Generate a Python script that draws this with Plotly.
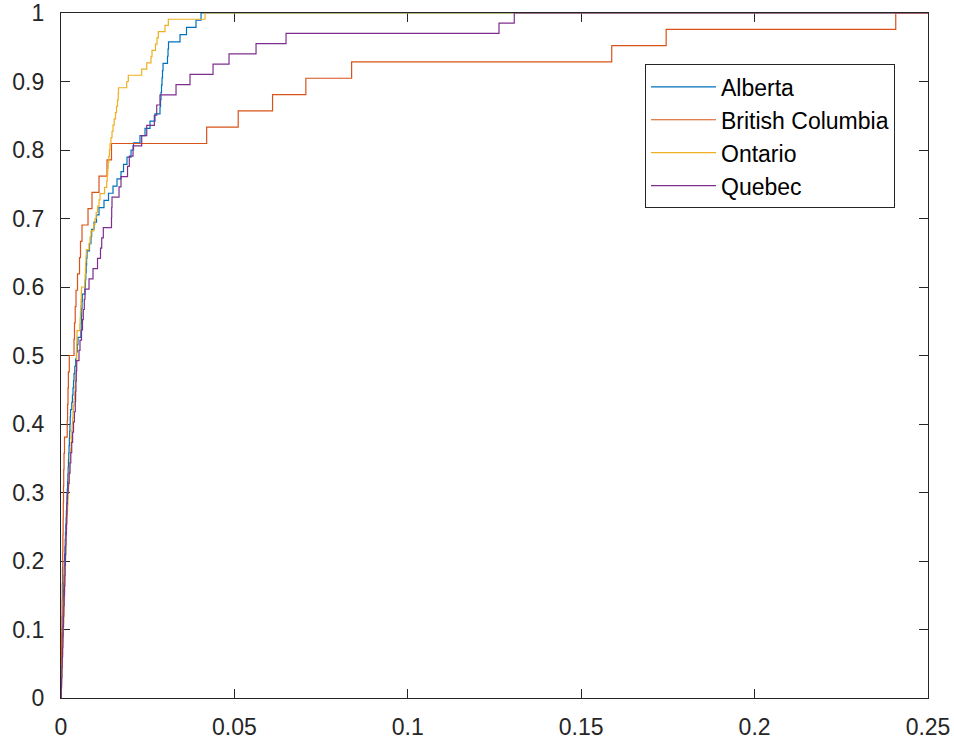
import numpy as np
import plotly.graph_objects as go

# Sample values per province (sorted observations)
alberta = [0.00005, 0.00010, 0.00015, 0.00020, 0.00025, 0.00030, 0.00035, 0.00040, 0.00045, 0.00050,
           0.00055, 0.00060, 0.00065, 0.00070, 0.00075, 0.00080, 0.00085, 0.00090, 0.00095, 0.00104,
           0.00112, 0.00121, 0.00129, 0.00138, 0.00147, 0.00155, 0.00164, 0.00172, 0.00181, 0.00189,
           0.00198, 0.00206, 0.00215, 0.00224, 0.00232, 0.00241, 0.00249, 0.00258, 0.00266, 0.00275,
           0.00311, 0.00329, 0.00346, 0.00361, 0.00375, 0.00398, 0.00421, 0.00447, 0.00470, 0.00490,
           0.00574, 0.00583, 0.00591, 0.00597, 0.00606, 0.00614, 0.00692, 0.00704, 0.00715, 0.00727,
           0.00738, 0.00750, 0.00822, 0.00865, 0.00885, 0.00952, 0.01024, 0.01096, 0.01240, 0.01370,
           0.01500, 0.01615, 0.01730, 0.01803, 0.01903, 0.02019, 0.02091, 0.02278, 0.02423, 0.02567,
           0.02711, 0.02855, 0.02870, 0.02884, 0.02898, 0.02913, 0.02927, 0.02942, 0.03071, 0.03086,
           0.03100, 0.03432, 0.03619, 0.03893, 0.04038]

british_columbia = [0.00003, 0.00009, 0.00014, 0.00020, 0.00026, 0.00032, 0.00037, 0.00043, 0.00049, 0.00055,
                    0.00061, 0.00066, 0.00072, 0.00078, 0.00087, 0.00101, 0.00179, 0.00190, 0.00202, 0.00213,
                    0.00239, 0.00375, 0.00389, 0.00410, 0.00433, 0.00476, 0.00534, 0.00562, 0.00606, 0.00779,
                    0.00894, 0.01096, 0.01327, 0.01456, 0.0420, 0.0511, 0.0610, 0.0706, 0.0838, 0.1588,
                    0.1745, 0.2407]

ontario = [0.00006, 0.00012, 0.00018, 0.00024, 0.00030, 0.00036, 0.00042, 0.00048, 0.00054, 0.00060,
           0.00066, 0.00072, 0.00078, 0.00083, 0.00089, 0.00094, 0.00100, 0.00106, 0.00111, 0.00117,
           0.00122, 0.00128, 0.00134, 0.00139, 0.00145, 0.00150, 0.00156, 0.00163, 0.00172, 0.00182,
           0.00191, 0.00200, 0.00209, 0.00218, 0.00228, 0.00236, 0.00246, 0.00255, 0.00265, 0.00277,
           0.00288, 0.00300, 0.00311, 0.00323, 0.00335, 0.00346, 0.00358, 0.00375, 0.00389, 0.00404,
           0.00415, 0.00427, 0.00441, 0.00444, 0.00447, 0.00450, 0.00453, 0.00457, 0.00461, 0.00542,
           0.00551, 0.00560, 0.00568, 0.00577, 0.00585, 0.00591, 0.00686, 0.00695, 0.00704, 0.00712,
           0.00721, 0.00730, 0.00808, 0.00836, 0.00865, 0.00946, 0.00981, 0.01015, 0.01053, 0.01096,
           0.01125, 0.01255, 0.01318, 0.01332, 0.01347, 0.01361, 0.01379, 0.01396, 0.01413, 0.01442,
           0.01471, 0.01500, 0.01534, 0.01572, 0.01601, 0.01629, 0.01650, 0.01658, 0.01895, 0.01941,
           0.02327, 0.02472, 0.02596, 0.02624, 0.02725, 0.02769, 0.02806, 0.02999, 0.03095, 0.04153]

quebec = [0.00009, 0.00017, 0.00026, 0.00037, 0.00046, 0.00055, 0.00063, 0.00072, 0.00081, 0.00092,
          0.00101, 0.00110, 0.00118, 0.00127, 0.00136, 0.00144, 0.00156, 0.00164, 0.00173, 0.00182,
          0.00208, 0.00234, 0.00260, 0.00283, 0.00309, 0.00335, 0.00361, 0.00386, 0.00412, 0.00421,
          0.00430, 0.00441, 0.00453, 0.00519, 0.00548, 0.00591, 0.00620, 0.00643, 0.00672, 0.00692,
          0.00808, 0.00923, 0.01053, 0.01139, 0.01174, 0.01220, 0.01456, 0.01462, 0.01471, 0.01673,
          0.01730, 0.01918, 0.01970, 0.02077, 0.02327, 0.02472, 0.02691, 0.02760, 0.02855, 0.03317,
          0.03720, 0.04384, 0.04845, 0.05624, 0.06489, 0.1263, 0.1307]

series_names = ["Alberta", "British Columbia", "Ontario", "Quebec"]
series_values = [alberta, british_columbia, ontario, quebec]
series_colors = ["#0072BD", "#D95319", "#EDB120", "#7E2F8E"]

x_tick_vals = [0, 0.05, 0.1, 0.15, 0.2, 0.25]
x_tick_text = ["0", "0.05", "0.1", "0.15", "0.2", "0.25"]
y_tick_vals = [0, 0.1, 0.2, 0.3, 0.4, 0.5, 0.6, 0.7, 0.8, 0.9, 1]
y_tick_text = ["0", "0.1", "0.2", "0.3", "0.4", "0.5", "0.6", "0.7", "0.8", "0.9", "1"]
x_range = [0, 0.25]
y_range = [0, 1]


def ecdf(samples, x_end):
    """Empirical CDF as stair points, starting at 0 and held at 1 to x_end."""
    xs = np.sort(np.asarray(samples, dtype=float))
    n = xs.size
    fs = np.arange(1, n + 1) / n
    xs = np.concatenate([[xs[0]], xs, [x_end]])
    fs = np.concatenate([[0.0], fs, [1.0]])
    return xs, fs


fig = go.Figure()
for name, vals, color in zip(series_names, series_values, series_colors):
    xs, fs = ecdf(vals, x_range[1])
    fig.add_trace(go.Scatter(
        x=xs, y=fs, mode="lines", name=name,
        line=dict(color=color, width=1.2, shape="hv"),
    ))

axis_color = "#262626"
font_family = "Liberation Sans, Arial, Helvetica, sans-serif"

common_axis = dict(
    showgrid=False, zeroline=False, automargin=False,
    showline=True, linecolor=axis_color, linewidth=1.2,
    mirror="ticks", ticks="inside", ticklen=9, tickwidth=1.2, tickcolor=axis_color,
    tickfont=dict(family=font_family, size=23, color=axis_color),
    layer="below traces",
)

fig.update_xaxes(range=x_range, tickvals=x_tick_vals, ticktext=x_tick_text,
                 ticklabelstandoff=8, **common_axis)
fig.update_yaxes(range=y_range, tickvals=y_tick_vals, ticktext=y_tick_text,
                 ticklabelstandoff=11, **common_axis)

fig.update_layout(
    width=954, height=742,
    margin=dict(l=61, r=26, t=13, b=44, autoexpand=False),
    paper_bgcolor="white", plot_bgcolor="white",
    showlegend=True,
    legend=dict(
        x=0.6736, y=0.925, xanchor="left", yanchor="top",
        bgcolor="white", bordercolor="#262626", borderwidth=1,
        font=dict(family=font_family, size=23, color="black"),
        itemwidth=65,
    ),
)

fig.write_html("out.html")
